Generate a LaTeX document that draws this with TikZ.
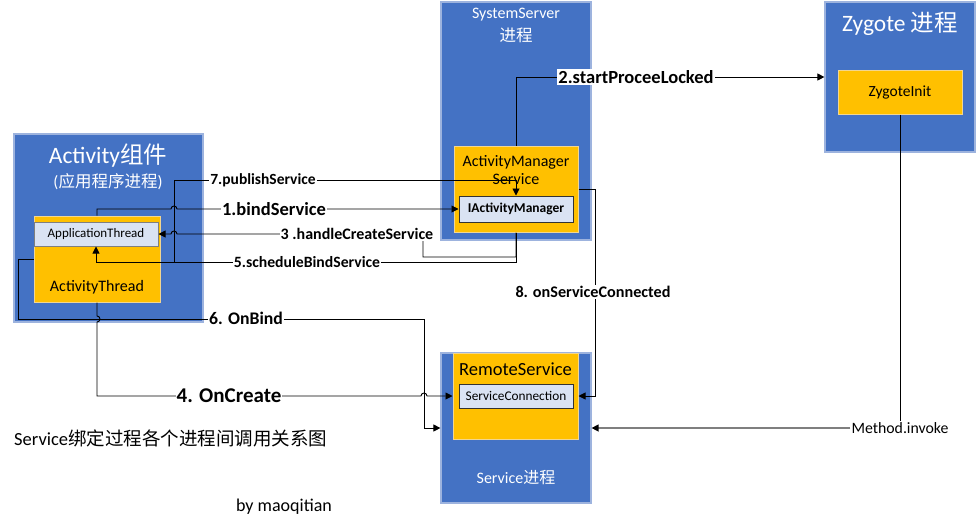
\documentclass[tikz,border=0pt]{standalone}
\usepackage{fontspec}
\setmainfont{Carlito}
\newfontfamily\cjk{Noto Sans CJK SC}
\usetikzlibrary{arrows.meta,calc}
\newcommand\fsz[1]{\fontsize{#1}{#1}\selectfont}
\definecolor{pblue}{HTML}{4472C4}
\definecolor{pblueedge}{HTML}{9DB3DE}
\definecolor{pyel}{HTML}{FFC000}
\definecolor{pyeledge}{HTML}{F2D690}
\definecolor{plight}{HTML}{DAE3F3}
\definecolor{linegray}{HTML}{7F7F7F}
\tikzset{
  procbox/.style={draw=pblueedge, fill=pblue, line width=1.2pt, inner sep=0pt},
  compbox/.style={draw=pyeledge, fill=pyel, line width=1pt, inner sep=0pt},
  ifbox/.style={draw=#1, fill=plight, line width=1pt, inner sep=0pt},
  wtext/.style={text=white, inner sep=0pt},
  btext/.style={text=black, inner sep=0pt},
  lbl/.style={fill=white, inner sep=1pt, text=black},
  conn/.style={draw=black, line width=0.9pt, -{Triangle[length=7pt,width=7pt]}},
}
\begin{document}
\begin{tikzpicture}[x=1pt,y=-1pt]
\useasboundingbox (0,0) rectangle (977,528);
\fill[white] (0,0) rectangle (977,528);

% ---- Activity process
\node[procbox, minimum width=189pt, minimum height=188pt] (act) at (108.5,228) {};
\node[wtext, font=\fsz{23.5}] (acttitle) at (108,156) {Activity{\cjk 组件}};
\node[wtext, font=\fsz{16.5}] (actsub) at (108,182) {({\cjk 应用程序进程})};
\node[compbox, minimum width=126pt, minimum height=86pt] (atY) at (97,259) {};
\node[ifbox=linegray, minimum width=124pt, minimum height=24pt, font=\fsz{13}] (apt) at (96,234) {ApplicationThread};
\node[btext, font=\fsz{16}] (atlabel) at (97,287) {ActivityThread};

% ---- SystemServer process
\node[procbox, minimum width=150pt, minimum height=238pt] (ss) at (516,121) {};
\node[wtext, font=\fsz{16}] (sstitle) at (516,15) {SystemServer};
\node[wtext, font=\fsz{16.5}\cjk] (sssub) at (516,35) {进程};
\node[compbox, minimum width=124pt, minimum height=86pt] (ams) at (516,189) {};
\node[btext, font=\fsz{16}, align=center] (amslabel) at (516,170.5) {ActivityManager\\[2pt]Service};
\node[ifbox=black!80, minimum width=114pt, minimum height=26pt, font=\fsz{13.5}\bfseries] (iam) at (516,209) {IActivityManager};

% ---- Zygote process
\node[procbox, minimum width=150pt, minimum height=150pt] (zyg) at (900,77) {};
\node[wtext, font=\fsz{23.5}] (zygtitle) at (900,24) {Zygote {\cjk 进程}};
\node[compbox, minimum width=124pt, minimum height=44pt, font=\fsz{15.5}] (zi) at (900,92) {ZygoteInit};

% ---- Service process
\node[procbox, minimum width=150pt, minimum height=150pt] (svc) at (516,428) {};
\node[compbox, minimum width=125pt, minimum height=86pt] (rs) at (515.5,396) {};
\node[btext, font=\fsz{18.5}] (rslabel) at (515.5,369) {RemoteService};
\node[ifbox=black!80, minimum width=114pt, minimum height=24pt, font=\fsz{13.3}] (sc) at (516,396) {ServiceConnection};
\node[wtext, font=\fsz{16}] (svclabel) at (516,478) {Service{\cjk 进程}};

% ---- connectors
% 1. bindService
\draw[conn] (atY.north) -- (97,209) -- (171,209) arc[start angle=180,end angle=0,radius=3pt] -- (iam.west);
\node[lbl, font=\fsz{18.5}\bfseries] (l1) at (274,209) {1.bindService};
% 7. publishService
\draw[conn] ($(atY.east)+(0,3)$) -- (174,262) -- (174,180) -- (516,180) -- (iam.north);
\node[lbl, font=\fsz{15.5}\bfseries] (l7) at (263,180) {7.publishService};
% 3. handleCreateService
\draw[conn] (ams.south) -- (516,257) -- (423,257) -- (423,234) -- (177,234) arc[start angle=0,end angle=180,radius=3pt] -- (apt.east);
\node[lbl, font=\fsz{16}\bfseries] (l3) at (357,234) {3 .handleCreateService};
% 5. scheduleBindService
\draw[conn] (ams.south) -- (516,262) -- (96,262) -- (apt.south);
\node[lbl, font=\fsz{15.7}\bfseries] (l5) at (307,262) {5.scheduleBindService};
% 6. OnBind
\draw[conn] (atY.west) -- (18,259) -- (18,319) -- (424,319) -- (424,428) -- (svc.west);
\node[lbl, font=\fsz{17.7}\bfseries] (l6) at (246,318) {6. OnBind};
% 4. OnCreate
\draw[conn] (atY.south) -- (97,316) arc[start angle=90,end angle=-90,radius=3pt] -- (97,396) -- (421,396) arc[start angle=180,end angle=0,radius=3pt] -- (rs.west);
\node[lbl, font=\fsz{21}\bfseries] (l4) at (229,396) {4. OnCreate};
% 2. startProceeLocked
\draw[conn] (ams.north) -- (516,77) -- (zyg.west);
\node[lbl, font=\fsz{18.5}\bfseries] (l2) at (636,77) {2.startProceeLocked};
% 8. onServiceConnected
\draw[conn] (ams.east) -- (595,189) -- (595,396) -- (rs.east);
\node[lbl, font=\fsz{16.2}\bfseries] (l8) at (593,292) {8. onServiceConnected};
% Method.invoke
\node[lbl, font=\fsz{15.8}] (mi) at (900,428) {Method.invoke};
\draw[line width=0.9pt] (zi.south) -- (mi.north);
\draw[line width=1.3pt, draw=linegray, -{Triangle[length=7pt,width=7pt,color=black]}] (mi.west) -- (svc.east);

% ---- free texts
\node[btext, anchor=west, font=\fsz{18.5}] (caption) at (14,438) {Service{\cjk 绑定过程各个进程间调用关系图}};
\node[btext, font=\fsz{18}] (author) at (284,507) {by maoqitian};
\end{tikzpicture}
\end{document}
